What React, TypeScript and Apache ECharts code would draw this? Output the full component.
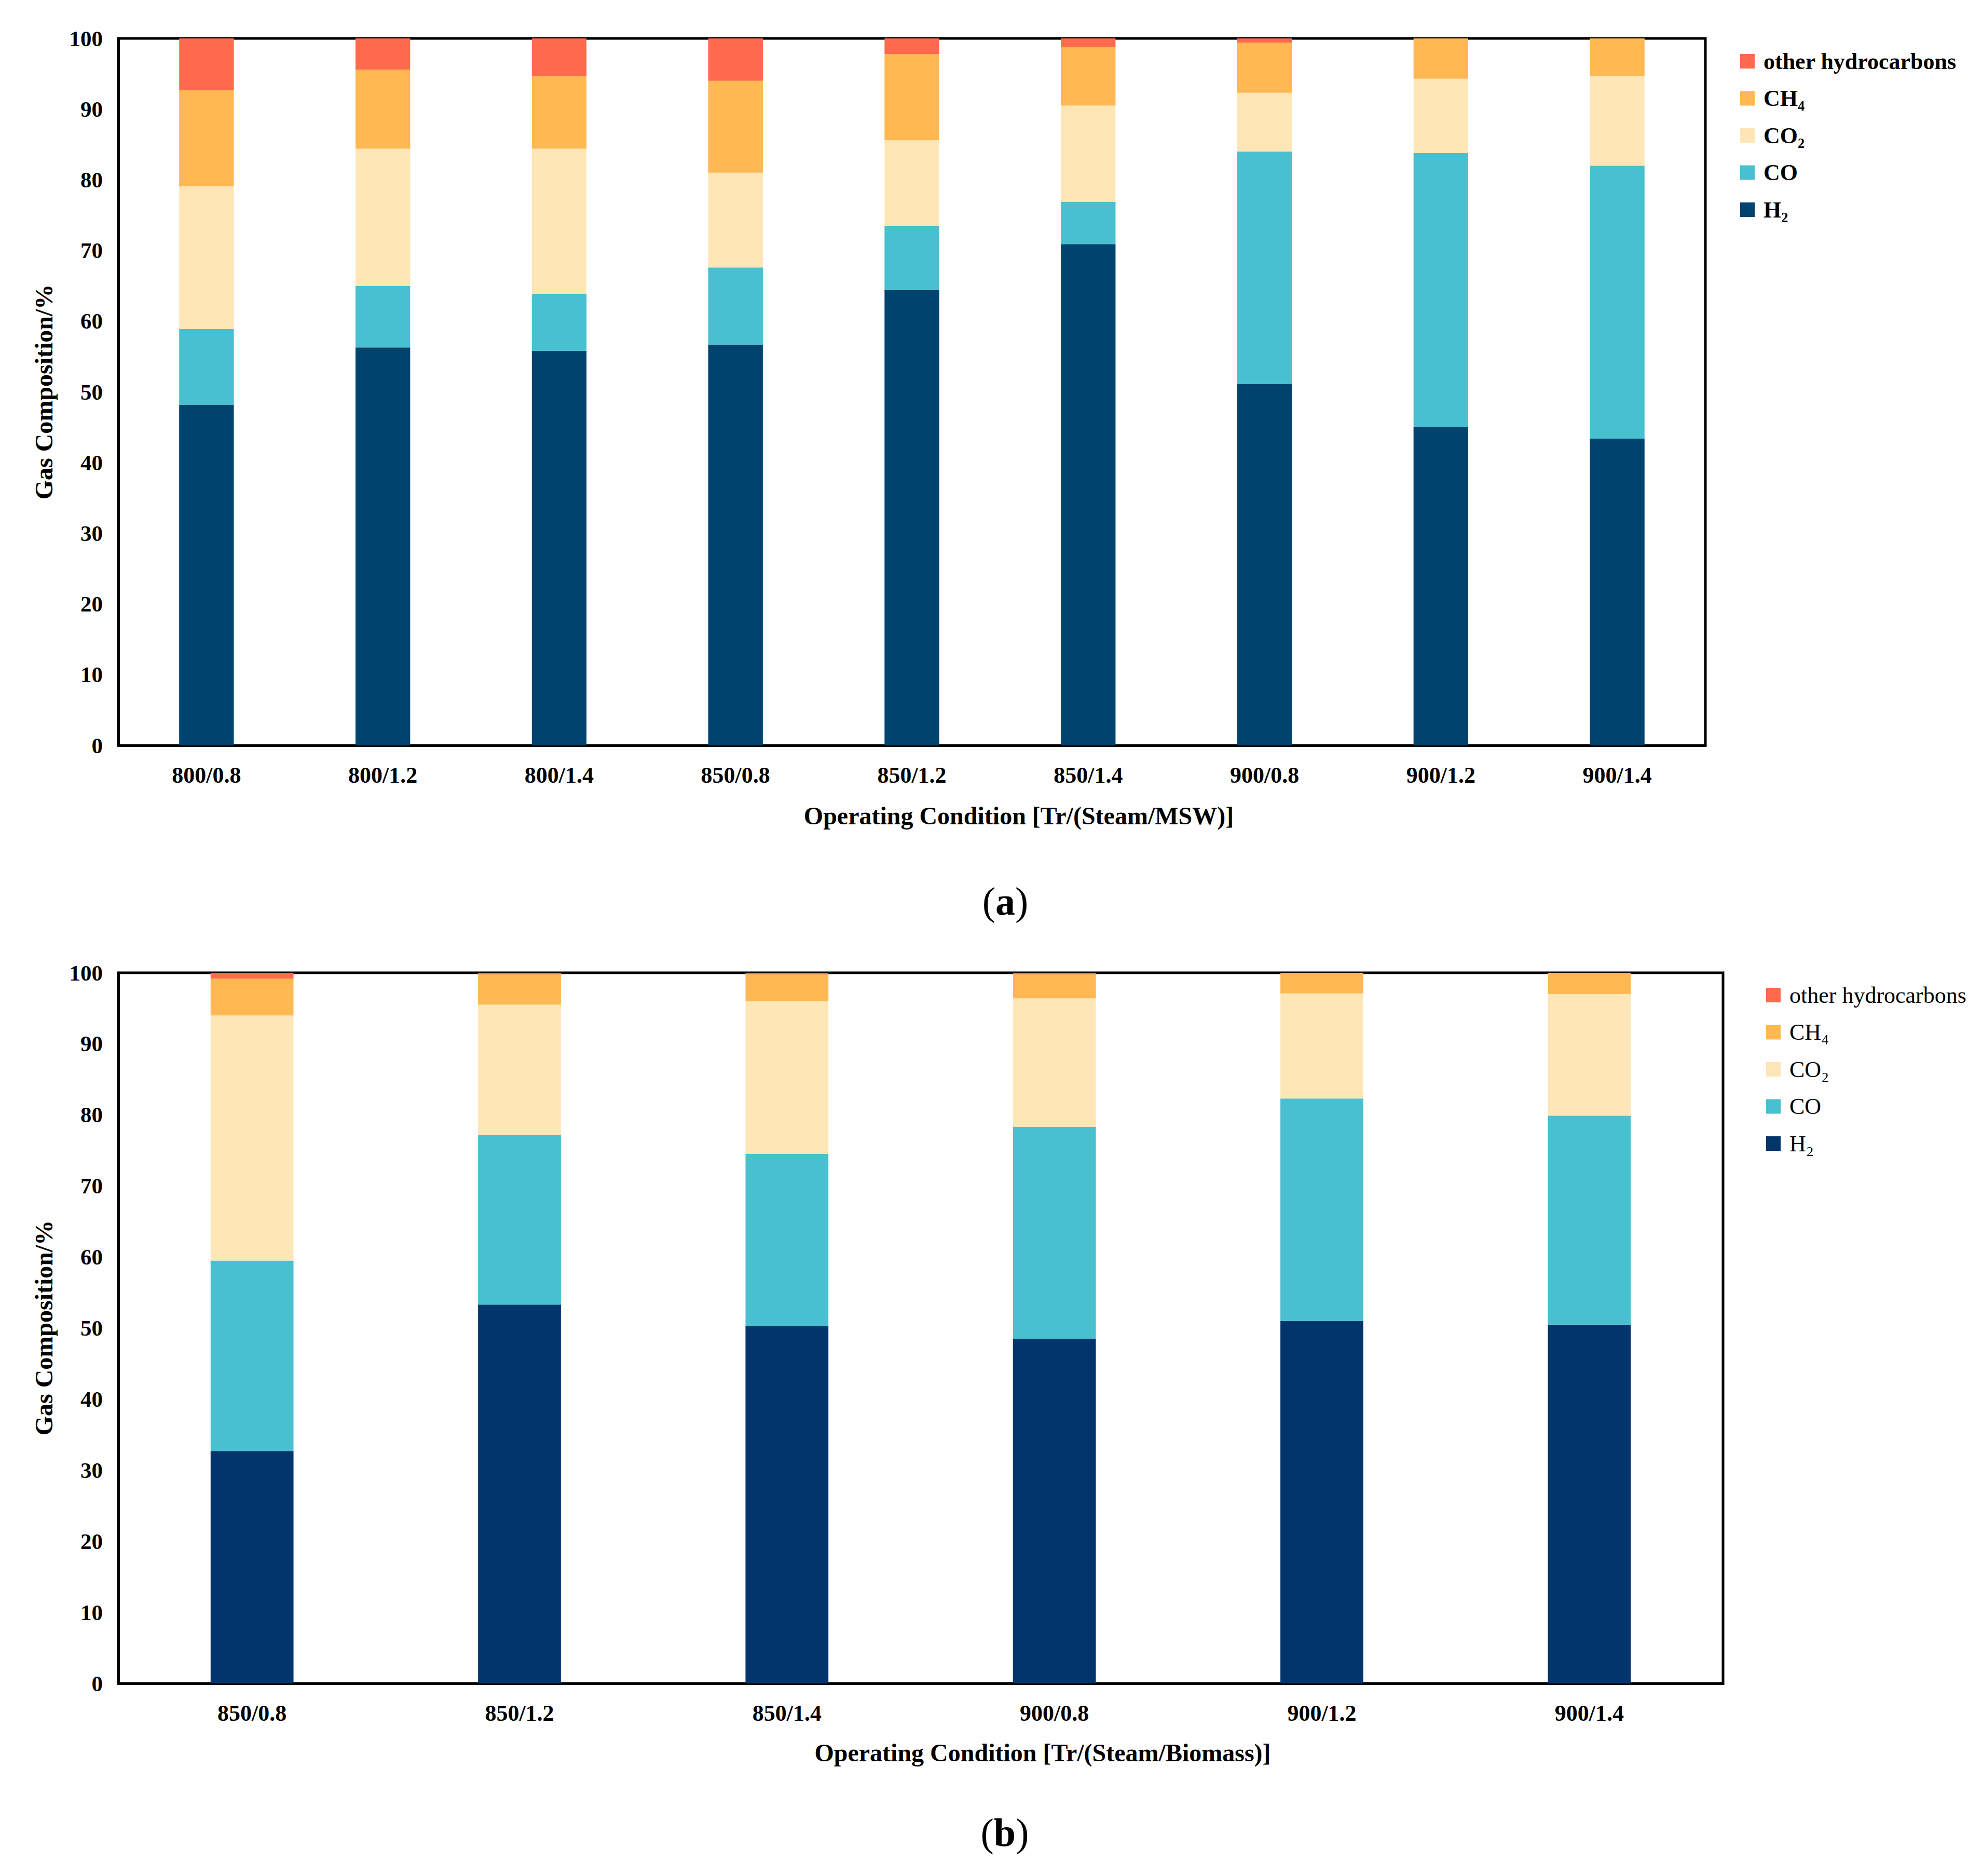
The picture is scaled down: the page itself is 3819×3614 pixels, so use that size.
import React, { useEffect, useRef } from "react";
import * as echarts from "echarts";

const catsA = ["800/0.8", "800/1.2", "800/1.4", "850/0.8", "850/1.2", "850/1.4", "900/0.8", "900/1.2", "900/1.4"];
const h2A = [48.2, 56.3, 55.8, 56.7, 64.4, 70.9, 51.1, 45.0, 43.4];
const coA = [10.7, 8.7, 8.1, 10.9, 9.1, 6.0, 32.9, 38.8, 38.6];
const co2A = [20.2, 19.4, 20.5, 13.4, 12.1, 13.6, 8.3, 10.5, 12.7];
const ch4A = [13.6, 11.2, 10.3, 13.0, 12.2, 8.3, 7.1, 5.7, 5.3];
const otherA = [7.3, 4.4, 5.3, 6.0, 2.2, 1.2, 0.6, 0, 0];

const catsB = ["850/0.8", "850/1.2", "850/1.4", "900/0.8", "900/1.2", "900/1.4"];
const h2B = [32.7, 53.3, 50.3, 48.5, 51.0, 50.5];
const coB = [26.8, 23.9, 24.2, 29.8, 31.3, 29.4];
const co2B = [34.5, 18.3, 21.5, 18.1, 14.8, 17.1];
const ch4B = [5.2, 4.3, 3.8, 3.4, 2.9, 3.0];
const otherB = [0.8, 0.2, 0.2, 0.2, 0, 0];

const yTicks = [0, 10, 20, 30, 40, 50, 60, 70, 80, 90, 100];
const seriesNames = ["H₂", "CO", "CO₂", "CH₄", "other hydrocarbons"];
const legendOrder = ["other hydrocarbons", "CH₄", "CO₂", "CO", "H₂"];
const colorsA: Record<string, string> = {
  "H₂": "#00436F",
  CO: "#48C0D0",
  "CO₂": "#FFE6B6",
  "CH₄": "#FFB852",
  "other hydrocarbons": "#FF6A4E",
};
const colorsB: Record<string, string> = { ...colorsA, "H₂": "#01356C" };

const FONT = "'Liberation Serif', 'Times New Roman', serif";

export default function App() {
  const ref = useRef<HTMLDivElement>(null);
  useEffect(() => {
    document.body.style.margin = "0";
    const chart = echarts.init(ref.current!, null, { renderer: "svg" });
    const dataA = [h2A, coA, co2A, ch4A, otherA];
    const dataB = [h2B, coB, co2B, ch4B, otherB];

    const makeSeries = (idx: number, data: number[][], colors: Record<string, string>) =>
      seriesNames.map((name, i) => ({
        type: "bar",
        name,
        stack: "s" + idx,
        xAxisIndex: idx,
        yAxisIndex: idx,
        barWidth: "31%",
        data: data[i],
        itemStyle: { color: colors[name] },
        emphasis: { disabled: true },
      }));

    const xAxisCommon = {
      type: "category",
      axisTick: { show: false },
      axisLine: { lineStyle: { color: "#000", width: 5 } },
      axisLabel: { color: "#000", fontFamily: FONT, fontWeight: "bold", fontSize: 44, margin: 35 },
    };
    const yAxisCommon = {
      type: "value",
      min: 0,
      max: 100,
      interval: 10,
      splitLine: { show: false },
      axisTick: { show: false },
      axisLine: { show: true, lineStyle: { color: "#000", width: 5 } },
      axisLabel: {
        color: "#000",
        fontFamily: FONT,
        fontWeight: "bold",
        fontSize: 43,
        margin: 30,
        formatter: (v: number) => (yTicks.includes(v) ? String(v) : ""),
      },
    };

    const legend = (top: number, left: number, colors: Record<string, string>, weight: string) => ({
      orient: "vertical",
      left,
      top,
      icon: "rect",
      itemWidth: 28,
      itemHeight: 28,
      itemGap: 27.5,
      selectedMode: false,
      data: legendOrder.map((n) => ({ name: n, itemStyle: { color: colors[n] } })),
      textStyle: {
        color: "#000",
        fontFamily: FONT,
        fontWeight: weight,
        fontSize: 44,
        lineHeight: 44,
        padding: [0, 0, 0, 12],
      },
    });

    const option: any = {
      animation: false,
      backgroundColor: "#fff",
      grid: [
        { left: 228, top: 74, width: 3058, height: 1362, show: true, borderColor: "#000", borderWidth: 5 },
        { left: 228, top: 1874, width: 3092, height: 1369, show: true, borderColor: "#000", borderWidth: 5 },
      ],
      xAxis: [
        { ...xAxisCommon, gridIndex: 0, data: catsA },
        { ...xAxisCommon, gridIndex: 1, data: catsB },
      ],
      yAxis: [
        { ...yAxisCommon, gridIndex: 0 },
        { ...yAxisCommon, gridIndex: 1 },
      ],
      legend: [legend(91, 3348, colorsA, "bold"), legend(1890, 3398, colorsB, "normal")],
      series: [...makeSeries(0, dataA, colorsA), ...makeSeries(1, dataB, colorsB)],
      graphic: [
        {
          type: "text",
          x: 84,
          y: 755,
          rotation: Math.PI / 2,
          style: {
            text: "Gas Composition/%",
            fontFamily: FONT,
            fontWeight: "bold",
            fontSize: 48,
            fill: "#000",
            align: "center",
            verticalAlign: "middle",
          },
        },
        {
          type: "text",
          x: 84,
          y: 2558,
          rotation: Math.PI / 2,
          style: {
            text: "Gas Composition/%",
            fontFamily: FONT,
            fontWeight: "bold",
            fontSize: 48,
            fill: "#000",
            align: "center",
            verticalAlign: "middle",
          },
        },
        {
          type: "text",
          x: 1963,
          y: 1571,
          style: {
            text: "Operating Condition [Tr/(Steam/MSW)]",
            fontFamily: FONT,
            fontWeight: "bold",
            fontSize: 48,
            fill: "#000",
            align: "center",
            verticalAlign: "middle",
          },
        },
        {
          type: "text",
          x: 2009,
          y: 3376,
          style: {
            text: "Operating Condition [Tr/(Steam/Biomass)]",
            fontFamily: FONT,
            fontWeight: "bold",
            fontSize: 48,
            fill: "#000",
            align: "center",
            verticalAlign: "middle",
          },
        },
        {
          type: "text",
          x: 1937,
          y: 1736,
          style: {
            text: "{p|(}{b|a}{p|)}",
            align: "center",
            verticalAlign: "middle",
            rich: {
              p: { fontFamily: FONT, fontSize: 76, fill: "#000" },
              b: { fontFamily: FONT, fontSize: 76, fontWeight: "bold", fill: "#000" },
            },
          },
        },
        {
          type: "text",
          x: 1936,
          y: 3530,
          style: {
            text: "{p|(}{b|b}{p|)}",
            align: "center",
            verticalAlign: "middle",
            rich: {
              p: { fontFamily: FONT, fontSize: 76, fill: "#000" },
              b: { fontFamily: FONT, fontSize: 76, fontWeight: "bold", fill: "#000" },
            },
          },
        },
      ],
    };
    chart.setOption(option);
    return () => chart.dispose();
  }, []);
  return (
    <div
      ref={ref}
      style={{ position: "absolute", left: 0, top: 0, width: 3819, height: 3614, background: "#fff" }}
    />
  );
}
